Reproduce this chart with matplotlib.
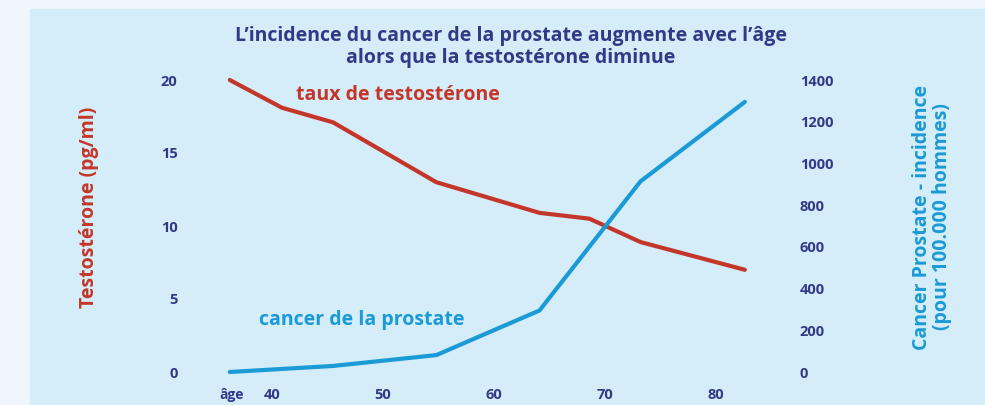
import numpy as np
import matplotlib.pyplot as plt
from matplotlib.patches import Rectangle

# data
ages_testo = [36.2, 40.9, 45.5, 54.8, 64.1, 68.6, 73.2, 82.6]
testosterone = [20.0, 18.1, 17.1, 13.0, 10.9, 10.5, 8.9, 7.0]
ages_cancer = [36.2, 45.5, 54.8, 64.1, 73.2, 82.6]
incidence = [0, 29, 81, 295, 914, 1295]

age_ticks = [40, 50, 60, 70, 80]
left_ticks = [0, 5, 10, 15, 20]
right_ticks = [0, 200, 400, 600, 800, 1000, 1200, 1400]

RED = '#c4362a'
BLUE = '#1a9ad6'
INK = '#323a88'
W, H = 985, 405

plt.rcParams['font.family'] = ['Open Sans', 'DejaVu Sans']

fig = plt.figure(figsize=(W / 100, H / 100), dpi=100)
fig.patch.set_facecolor('#f1f6fc')
# light blue panel behind everything
fig.patches.append(Rectangle((30 / W, 0), 1 - 30 / W, 1 - 9 / H,
                             transform=fig.transFigure, color='#d5ecf9', zorder=-5))

# axes box in pixels: left 190, right 790, bottom 382, top 70
ax = fig.add_axes([190 / W, 1 - 382 / H, 600 / W, 312 / H])
ax.patch.set_alpha(0)
px_per_year = 444 / 40
ax.set_xlim(40 - 82 / px_per_year, 40 + 518 / px_per_year)
px_per_unit = 292 / 20
ax.set_ylim(-10 / px_per_unit, 20 + 10 / px_per_unit)

ax2 = ax.twinx()
ax2.patch.set_alpha(0)
ax2.set_ylim(ax.get_ylim()[0] * 70, ax.get_ylim()[1] * 70)

ax.plot(ages_testo, testosterone, color=RED, lw=3, solid_joinstyle='round',
        solid_capstyle='round')
ax2.plot(ages_cancer, incidence, color=BLUE, lw=3, solid_joinstyle='round',
         solid_capstyle='round')

for a in (ax, ax2):
    for s in a.spines.values():
        s.set_visible(False)

ax.set_xticks(age_ticks)
ax.set_yticks(left_ticks)
ax2.set_yticks(right_ticks)
ax.tick_params(axis='both', length=0, labelcolor=INK, labelsize=10.5)
ax.tick_params(axis='x', pad=4)
ax.tick_params(axis='y', pad=9)
ax2.tick_params(axis='y', length=0, labelcolor=INK, labelsize=10.5, pad=7)
for lab in ax.get_xticklabels() + ax.get_yticklabels() + ax2.get_yticklabels():
    lab.set_fontweight('bold')

fig.text(232 / W, 1 - 395 / H, 'âge', color=INK, fontsize=10, fontweight='bold',
         ha='center', va='center')

fig.text(511 / W, 1 - 36 / H,
         "L\u2019incidence du cancer de la prostate augmente avec l\u2019âge",
         color=INK, fontsize=14, fontweight='bold', ha='center', va='center')
fig.text(511 / W, 1 - 58 / H, "alors que la testostérone diminue",
         color=INK, fontsize=14, fontweight='bold', ha='center', va='center')

fig.text(398 / W, 1 - 95 / H, 'taux de testostérone', color=RED, fontsize=14,
         fontweight='bold', ha='center', va='center')
fig.text(362 / W, 1 - 320 / H, 'cancer de la prostate', color=BLUE, fontsize=14,
         fontweight='bold', ha='center', va='center')

fig.text(89 / W, 1 - 207 / H, 'Testostérone (pg/ml)', color=RED, fontsize=14,
         fontweight='bold', rotation=90, ha='center', va='center')
fig.text(932 / W, 1 - 217 / H, 'Cancer Prostate - incidence\n(pour 100.000 hommes)',
         color=BLUE, fontsize=14, fontweight='bold', rotation=90, ha='center',
         va='center', linespacing=0.95)

fig.savefig('out.png', dpi=100, facecolor=fig.get_facecolor())
